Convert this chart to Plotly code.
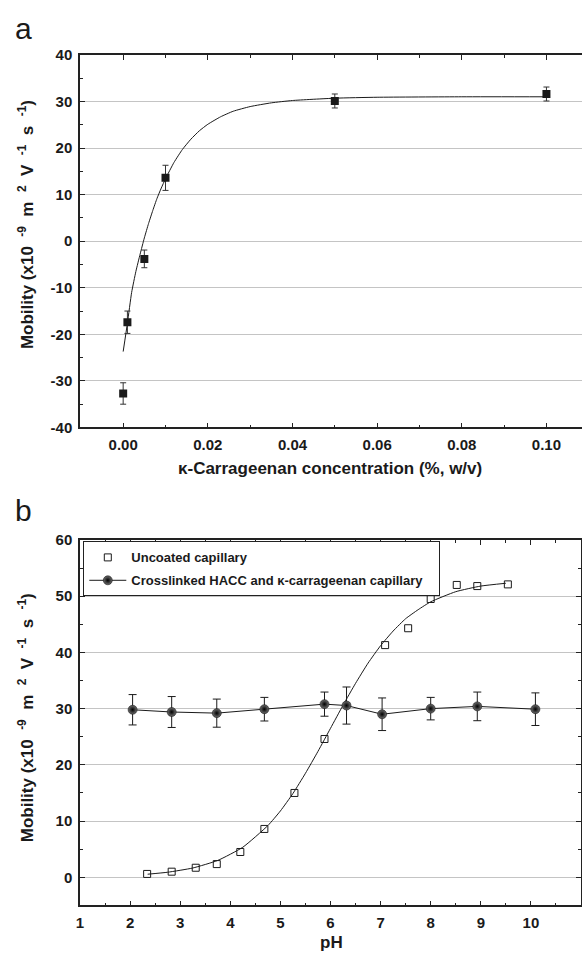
import plotly.graph_objects as go

# ---------- Panel a data ----------
conc = [0.0, 0.001, 0.005, 0.01, 0.05, 0.10]
mob_a = [-32.7, -17.4, -3.8, 13.6, 30.1, 31.6]
err_a = [2.3, 2.4, 1.9, 2.7, 1.5, 1.5]

# fitted curve
fit_a_x = [0.0, 0.001, 0.002, 0.003, 0.004, 0.005, 0.006, 0.007, 0.008, 0.009, 0.010, 0.012, 0.014,
           0.016, 0.018, 0.020, 0.023, 0.026, 0.030, 0.035, 0.040, 0.050, 0.060, 0.080, 0.100]
fit_a_y = [-23.7, -17.6, -11.0, -6.5, -2.8, 0.7, 3.8, 6.6, 9.2, 11.4, 13.4, 16.9, 19.7,
           21.9, 23.7, 25.1, 26.7, 27.9, 28.9, 29.7, 30.2, 30.7, 30.9, 31.0, 31.0]

a_xticks = [0.0, 0.02, 0.04, 0.06, 0.08, 0.10]
a_xlabels = ["0.00", "0.02", "0.04", "0.06", "0.08", "0.10"]
a_yticks = [-40, -30, -20, -10, 0, 10, 20, 30, 40]
a_ylabels = ["-40", "-30", "-20", "-10", "0", "10", "20", "30", "40"]

# ---------- Panel b data ----------
ph_unc = [2.34, 2.83, 3.31, 3.73, 4.2, 4.68, 5.28, 5.88, 7.09, 7.55, 8.0, 8.52, 8.93, 9.54]
mob_unc = [0.6, 1.0, 1.7, 2.35, 4.5, 8.6, 15.0, 24.6, 41.3, 44.3, 49.5, 52.0, 51.8, 52.1]

fit_b_x = [2.35, 2.75, 3.25, 3.75, 4.25, 4.75, 5.0, 5.25, 5.5, 5.75, 6.0, 6.25, 6.5, 6.75,
           7.0, 7.25, 7.5, 7.75, 8.0, 8.5, 9.0, 9.5]
fit_b_y = [0.55, 0.9, 1.65, 3.0, 5.35, 9.2, 11.8, 14.9, 18.5, 22.4, 26.5, 30.6, 34.5, 38.1,
           41.2, 43.8, 46.0, 47.6, 49.0, 50.8, 51.8, 52.3]

ph_cl = [2.05, 2.83, 3.73, 4.68, 5.88, 6.32, 7.03, 8.0, 8.93, 10.09]
mob_cl = [29.8, 29.4, 29.2, 29.9, 30.8, 30.55, 29.0, 30.0, 30.4, 29.9]
err_cl = [2.7, 2.75, 2.5, 2.1, 2.15, 3.3, 2.9, 2.0, 2.55, 2.9]

b_xticks = [1, 2, 3, 4, 5, 6, 7, 8, 9, 10, 11]
b_xlabels = ["1", "2", "3", "4", "5", "6", "7", "8", "9", "10", "11"]
b_yticks = [0, 10, 20, 30, 40, 50, 60]
b_ylabels = ["0", "10", "20", "30", "40", "50", "60"]

FONT = "Liberation Sans, Arial, sans-serif"
INK = "#1a1a1a"


def bold(labels):
    return ["<b>%s</b>" % s for s in labels]


fig = go.Figure()

# Panel a
fig.add_trace(go.Scatter(x=fit_a_x, y=fit_a_y, mode="lines",
                         line=dict(color=INK, width=1, shape="spline", smoothing=0.5),
                         xaxis="x", yaxis="y", showlegend=False, hoverinfo="skip"))
fig.add_trace(go.Scatter(x=conc, y=mob_a, mode="markers",
                         marker=dict(symbol="square", size=8, color=INK),
                         error_y=dict(type="data", array=err_a, color="#333333", thickness=1, width=3),
                         xaxis="x", yaxis="y", showlegend=False))

# Panel b
fig.add_trace(go.Scatter(x=fit_b_x, y=fit_b_y, mode="lines",
                         line=dict(color=INK, width=1, shape="spline", smoothing=0.5),
                         xaxis="x2", yaxis="y2", showlegend=False, hoverinfo="skip"))
fig.add_trace(go.Scatter(x=ph_unc, y=mob_unc, mode="markers", name="Uncoated capillary",
                         marker=dict(symbol="square-open", size=7, color=INK, line=dict(width=1, color=INK)),
                         xaxis="x2", yaxis="y2", legendgroup="g1"))
fig.add_trace(go.Scatter(x=ph_cl, y=mob_cl, mode="lines+markers",
                         name="Crosslinked HACC and \u03ba-carrageenan capillary\u00a0\u00a0\u00a0",
                         line=dict(color=INK, width=1),
                         marker=dict(symbol="circle", size=9, color="#6e6e6e",
                                     gradient=dict(type="radial", color="#000000"),
                                     line=dict(width=0.5, color="#000000")),
                         error_y=dict(type="data", array=err_cl, color=INK, thickness=1, width=4),
                         xaxis="x2", yaxis="y2", legendgroup="g2"))

tickfont = dict(family=FONT, size=15, color=INK)
common_axis = dict(showline=True, linecolor="#222222", linewidth=1.5, ticks="inside", ticklen=5, tickwidth=1,
                   tickcolor="#222222", tickfont=tickfont, zeroline=False, ticklabelstandoff=3)
minor_style = dict(ticks="inside", ticklen=3, tickcolor="#222222", showgrid=False)

H = 964.0
fig.update_layout(
    width=582, height=964,
    margin=dict(l=80, r=0, t=0, b=0),
    paper_bgcolor="white", plot_bgcolor="white",
    xaxis=dict(domain=[0, 1], range=[-0.0102, 0.1084], tickmode="array", tickvals=a_xticks,
               ticktext=bold(a_xlabels), mirror="ticks", showgrid=False, anchor="y",
               minor=dict(dtick=0.01, tick0=0, **minor_style), **common_axis),
    yaxis=dict(domain=[1 - 426 / H, 1 - 46.7 / H], range=[-40, 40], tickmode="array", tickvals=a_yticks,
               ticktext=bold(a_ylabels), mirror=False,
               showgrid=True, gridcolor="#c4c4c4", gridwidth=1.3, anchor="x",
               minor=dict(dtick=5, tick0=0, **minor_style), **common_axis),
    xaxis2=dict(domain=[0, 0.998], range=[1, 11], tickmode="array", tickvals=b_xticks,
                ticktext=bold(b_xlabels), mirror="ticks", showgrid=False, anchor="y2",
                minor=dict(dtick=0.5, tick0=1, **minor_style), **common_axis),
    yaxis2=dict(domain=[1 - 912.5 / H, 1 - 540.5 / H], range=[-5, 60], tickmode="array", tickvals=b_yticks,
                ticktext=bold(b_ylabels), mirror="ticks",
                showgrid=True, gridcolor="#c4c4c4", gridwidth=1.3, anchor="x2",
                minor=dict(dtick=5, tick0=0, **minor_style), **common_axis),
    legend=dict(x=3.3 / 502, y=1 - 542.0 / H, xanchor="left", yanchor="top",
                bgcolor="white", bordercolor="#222222", borderwidth=1,
                font=dict(family=FONT, size=13, color=INK, weight="bold"),
                itemwidth=37, tracegroupgap=3, traceorder="grouped"),
    showlegend=True,
)

NB = "\u00a0"
ytitle = ("<b>Mobility (x10" + NB * 2 + "<sup>-9</sup>" + NB * 2 + "m" + NB * 2 + "<sup>2</sup>" + NB * 2
          + "V" + NB * 2 + "<sup>-1</sup>" + NB * 2 + "s" + NB * 2 + "<sup>-1</sup>)</b>")
ann_font = dict(family=FONT, size=17, color=INK)
fig.add_annotation(text=ytitle, xref="paper", yref="paper", x=(26 - 80) / 502, y=1 - 220 / H,
                   textangle=-90, showarrow=False, font=ann_font, xanchor="center", yanchor="middle")
fig.add_annotation(text=ytitle, xref="paper", yref="paper", x=(26 - 80) / 502, y=1 - 722 / H,
                   textangle=-90, showarrow=False, font=ann_font, xanchor="center", yanchor="middle")
fig.add_annotation(text="<b>\u03ba-Carrageenan concentration (%, w/v)</b>", xref="paper", yref="paper",
                   x=(330 - 80) / 502, y=1 - 468 / H, showarrow=False, font=ann_font,
                   xanchor="center", yanchor="middle")
fig.add_annotation(text="<b>pH</b>", xref="paper", yref="paper", x=(331 - 80) / 502, y=1 - 950 / H,
                   showarrow=False, font=ann_font, xanchor="center", yanchor="middle")
letter_font = dict(family=FONT, size=30, color=INK)
fig.add_annotation(text="a", xref="paper", yref="paper", x=(13 - 80) / 502, y=1 - 20 / H,
                   showarrow=False, font=letter_font, xanchor="left", yanchor="middle")
fig.add_annotation(text="b", xref="paper", yref="paper", x=(13 - 80) / 502, y=1 - 510 / H,
                   showarrow=False, font=letter_font, xanchor="left", yanchor="middle")

fig.write_html("out.html", config={"displayModeBar": False},
               post_script="document.documentElement.style.margin='0';document.body.style.margin='0';"
                           "document.body.style.padding='0';document.body.style.overflow='hidden';"
                           "document.documentElement.style.overflow='hidden';")
